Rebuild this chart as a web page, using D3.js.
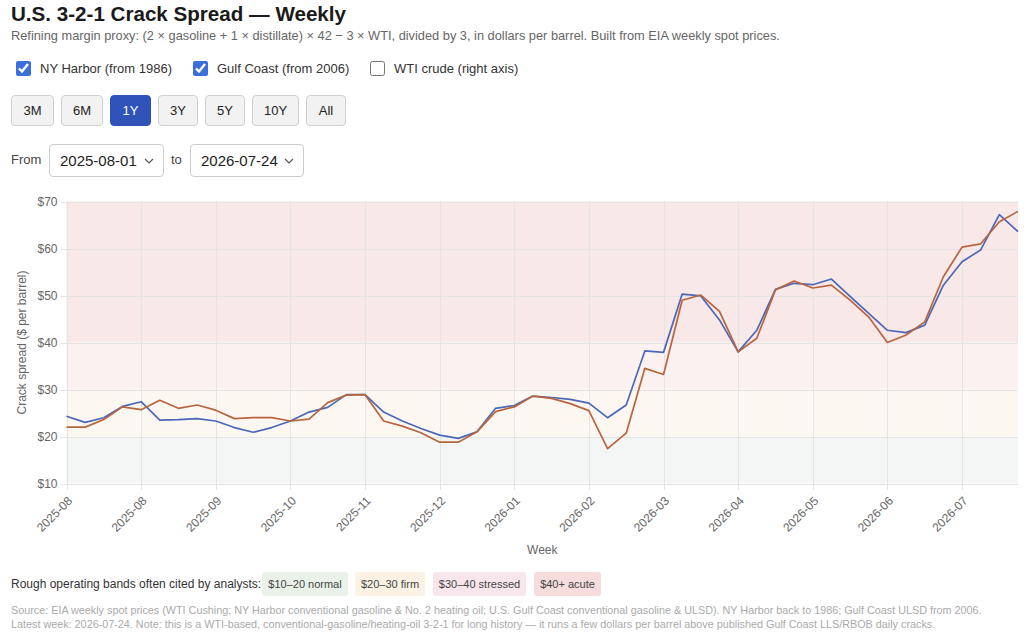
<!DOCTYPE html>
<html>
<head>
<meta charset="utf-8">
<script src="https://cdn.jsdelivr.net/npm/d3@7"></script>
<style>
  html, body { margin:0; padding:0; background:#fff; }
  body { width:1024px; height:635px; position:relative; overflow:hidden; font-family:"Liberation Sans", Arial, Helvetica, sans-serif; color:#222; }
  .abs { position:absolute; white-space:nowrap; }
  #title { left:11px; top:2px; font-size:20.6px; font-weight:bold; color:#1a1a1a; }
  #subtitle { left:11px; top:28px; font-size:12.8px; color:#666; }
  .cb { top:61px; font-size:13px; color:#333; display:flex; align-items:center; }
  .cb input { width:15px; height:15px; margin:0 9px 0 0; accent-color:#3a6fdc; }
  .btn { top:95px; height:31px; box-sizing:border-box; border:1px solid #d0d0d0; border-radius:4px; background:#f2f2f2; font-size:13px; color:#222; display:flex; align-items:center; justify-content:center; font-family:inherit; padding:0; }
  .btn.active { background:#2f53b8; border-color:#2f53b8; color:#fff; }
  .lbl { font-size:13px; color:#444; }
  select.sel { position:absolute; top:144px; height:33px; box-sizing:border-box; border:1px solid #ccc; border-radius:4px; background-color:#fff; font-size:15px; color:#222; font-family:inherit; padding:0 0 0 10px; -webkit-appearance:none; appearance:none;
    background-image:url("data:image/svg+xml;utf8,<svg xmlns='http://www.w3.org/2000/svg' width='10' height='6'><path d='M1 1 L5 5 L9 1' fill='none' stroke='%23555' stroke-width='1.2'/></svg>");
    background-repeat:no-repeat; background-position:right 9px center; }
  .band { top:572px; height:24px; border-radius:3px; font-size:11px; color:#444; display:flex; align-items:center; justify-content:center; }
  .foot { left:11px; font-size:10.8px; color:#aaa; }
  svg { position:absolute; left:0; top:0; }
</style>
</head>
<body>
<div id="title" class="abs">U.S. 3-2-1 Crack Spread — Weekly</div>
<div id="subtitle" class="abs">Refining margin proxy: (2 × gasoline + 1 × distillate) × 42 − 3 × WTI, divided by 3, in dollars per barrel. Built from EIA weekly spot prices.</div>

<label class="abs cb" style="left:16px"><input type="checkbox" checked>NY Harbor (from 1986)</label>
<label class="abs cb" style="left:193px"><input type="checkbox" checked>Gulf Coast (from 2006)</label>
<label class="abs cb" style="left:370px"><input type="checkbox">WTI crude (right axis)</label>

<div id="btns"></div>

<div class="abs lbl" style="left:11px; top:152px;">From</div>
<select class="sel" style="left:49px; width:115px;"><option>2025-08-01</option></select>
<div class="abs lbl" style="left:171px; top:152px;">to</div>
<select class="sel" style="left:190px; width:114px;"><option>2026-07-24</option></select>

<svg id="chart" width="1024" height="565"></svg>

<div class="abs lbl" style="left:11px; top:577px; font-size:12px; color:#333;">Rough operating bands often cited by analysts:</div>
<div id="legend"></div>

<div class="abs foot" style="top:604px;">Source: EIA weekly spot prices (WTI Cushing; NY Harbor conventional gasoline &amp; No. 2 heating oil; U.S. Gulf Coast conventional gasoline &amp; ULSD). NY Harbor back to 1986; Gulf Coast ULSD from 2006.</div>
<div class="abs foot" style="top:618px;">Latest week: 2026-07-24. Note: this is a WTI-based, conventional-gasoline/heating-oil 3-2-1 for long history — it runs a few dollars per barrel above published Gulf Coast LLS/RBOB daily cracks.</div>

<script>
// ---- data ----
const weeks = [
  "2025-08-01","2025-08-08","2025-08-15","2025-08-22","2025-08-29",
  "2025-09-05","2025-09-12","2025-09-19","2025-09-26",
  "2025-10-03","2025-10-10","2025-10-17","2025-10-24","2025-10-31",
  "2025-11-07","2025-11-14","2025-11-21","2025-11-28",
  "2025-12-05","2025-12-12","2025-12-19","2025-12-26",
  "2026-01-02","2026-01-09","2026-01-16","2026-01-23","2026-01-30",
  "2026-02-06","2026-02-13","2026-02-20","2026-02-27",
  "2026-03-06","2026-03-13","2026-03-20","2026-03-27",
  "2026-04-03","2026-04-10","2026-04-17","2026-04-24",
  "2026-05-01","2026-05-08","2026-05-15","2026-05-22","2026-05-29",
  "2026-06-05","2026-06-12","2026-06-19","2026-06-26",
  "2026-07-03","2026-07-10","2026-07-17","2026-07-24"
];
const nyHarbor = [
  24.3, 23.0, 24.0, 26.4, 27.4, 23.5, 23.6, 23.8, 23.3, 21.9, 20.9, 21.9, 23.3,
  25.2, 26.2, 28.9, 28.9, 25.2, 23.3, 21.7, 20.3, 19.6, 21.0, 26.0, 26.6, 28.6,
  28.3, 27.9, 27.1, 24.0, 26.7, 38.2, 37.9, 50.3, 49.9, 44.8, 38.0, 42.6, 51.3,
  52.6, 52.3, 53.5, 49.8, 46.2, 42.6, 42.1, 43.7, 52.2, 57.2, 59.7, 67.2, 63.6
];
const gulfCoast = [
  22.0, 22.0, 23.6, 26.3, 25.7, 27.7, 26.0, 26.7, 25.6, 23.8, 24.0, 24.0, 23.3,
  23.7, 27.2, 28.8, 28.9, 23.3, 22.2, 20.8, 18.8, 18.8, 21.0, 25.3, 26.3, 28.6,
  28.1, 27.0, 25.5, 17.4, 20.7, 34.5, 33.2, 49.0, 50.1, 46.6, 38.0, 40.9, 51.2,
  53.1, 51.6, 52.2, 49.0, 45.4, 40.0, 41.6, 44.4, 54.0, 60.3, 61.0, 65.7, 67.9
];
const yTicks = [10, 20, 30, 40, 50, 60, 70];
const xTickEvery = 4;
const rangeButtons = ["3M", "6M", "1Y", "3Y", "5Y", "10Y", "All"];
const activeRange = "1Y";
const bandRanges = [[10, 20], [20, 30], [30, 40], [40, 70]];
const bandLabels = ["$10–20 normal", "$20–30 firm", "$30–40 stressed", "$40+ acute"];
const bandFills = ["#f3f6f5", "#fdf7f2", "#fbf1f1", "#f9e8e8"];
const bandChips = ["#e9f1e9", "#fcf2e3", "#f9e6ec", "#f6dcdd"];

// ---- buttons ----
const btnX = [11, 61, 110, 158, 205, 252, 306];
const btnW = [43, 42, 41, 40, 40, 47, 40];
d3.select("#btns").selectAll("button").data(rangeButtons).join("button")
  .attr("class", d => "abs btn" + (d === activeRange ? " active" : ""))
  .style("left", (d, i) => btnX[i] + "px")
  .style("width", (d, i) => btnW[i] + "px")
  .text(d => d);

// ---- legend chips ----
const chipX = [262, 355, 433, 534];
const chipW = [86, 70, 93, 67];
d3.select("#legend").selectAll("div").data(bandLabels).join("div")
  .attr("class", "abs band")
  .style("left", (d, i) => chipX[i] + "px")
  .style("width", (d, i) => chipW[i] + "px")
  .style("background", (d, i) => bandChips[i])
  .text(d => d);

// ---- chart ----
const svg = d3.select("#chart");
const pL = 66.5, pR = 1018, pT = 201.5, pB = 483.5;
const x = d3.scalePoint().domain(d3.range(weeks.length)).range([pL, pR]);
const y = d3.scaleLinear().domain([10, 70]).range([pB, pT]);

// bands
svg.append("g").selectAll("rect").data(bandRanges).join("rect")
  .attr("x", pL).attr("width", pR - pL)
  .attr("y", d => y(d[1])).attr("height", d => y(d[0]) - y(d[1]))
  .attr("fill", (d, i) => bandFills[i]);

// grid
const xTickIdx = d3.range(0, weeks.length, xTickEvery);
const grid = svg.append("g").attr("stroke", "#e4e4e4").attr("stroke-width", 1);
grid.selectAll(".gy").data(yTicks).join("line")
  .attr("x1", pL - 6).attr("x2", pR)
  .attr("y1", d => Math.round(y(d)) + 0.5).attr("y2", d => Math.round(y(d)) + 0.5);
grid.selectAll(".gx").data(xTickIdx).join("line")
  .attr("x1", d => Math.round(x(d)) + 0.5).attr("x2", d => Math.round(x(d)) + 0.5)
  .attr("y1", pT).attr("y2", pB + 6);

// y axis labels
const yAxis = d3.axisLeft(y).tickValues(yTicks).tickFormat(d => "$" + d).tickSize(0).tickPadding(0);
const gy = svg.append("g").attr("transform", `translate(${pL - 9},0)`).call(yAxis);
gy.select(".domain").remove();
gy.selectAll("text").attr("font-size", 12).attr("fill", "#666").attr("font-family", "Liberation Sans, Arial, sans-serif");

// x axis labels
const xAxis = d3.axisBottom(x).tickValues(xTickIdx).tickFormat(i => weeks[i].slice(0, 7)).tickSize(0);
const gx = svg.append("g").attr("transform", `translate(0,${pB})`).call(xAxis);
gx.select(".domain").remove();
gx.selectAll("text")
  .attr("font-size", 12).attr("fill", "#666").attr("font-family", "Liberation Sans, Arial, sans-serif")
  .attr("text-anchor", "end").attr("y", 0).attr("dy", "0.35em")
  .attr("transform", "translate(3,15) rotate(-45)");

// axis titles
svg.append("text").attr("transform", `translate(26,${(pT + pB) / 2}) rotate(-90)`)
  .attr("text-anchor", "middle").attr("font-size", 12).attr("fill", "#666")
  .attr("font-family", "Liberation Sans, Arial, sans-serif")
  .text("Crack spread ($ per barrel)");
svg.append("text").attr("x", (pL + pR) / 2).attr("y", 554)
  .attr("text-anchor", "middle").attr("font-size", 12).attr("fill", "#666")
  .attr("font-family", "Liberation Sans, Arial, sans-serif")
  .text("Week");

// lines
const line = d3.line().x((d, i) => x(i)).y(d => y(d));
svg.append("path").datum(nyHarbor).attr("d", line)
  .attr("fill", "none").attr("stroke", "#4b67b8").attr("stroke-width", 1.7).attr("stroke-linejoin", "round");
svg.append("path").datum(gulfCoast).attr("d", line)
  .attr("fill", "none").attr("stroke", "#b8653f").attr("stroke-width", 1.7).attr("stroke-linejoin", "round");
</script>
</body>
</html>
